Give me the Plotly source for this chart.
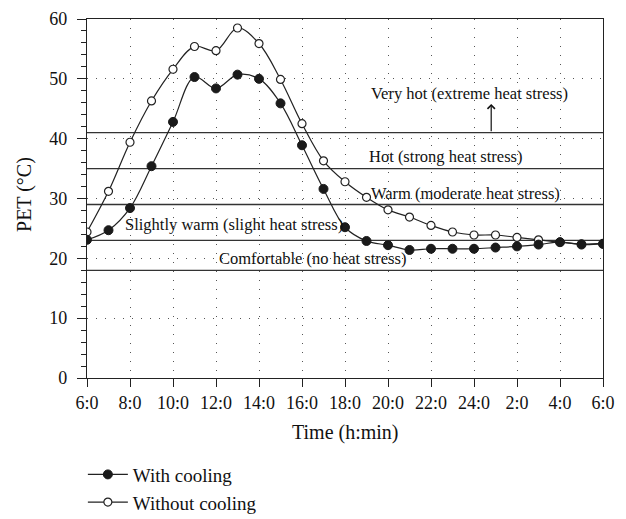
import plotly.graph_objects as go

# Hours elapsed since 6:00 (one reading per hour, 25 readings)
hours = list(range(25))
tick_vals = list(range(0, 25, 2))
tick_text = ["6:0", "8:0", "10:0", "12:0", "14:0", "16:0", "18:0",
             "20:0", "22:0", "24:0", "2:0", "4:0", "6:0"]

# PET values (deg C)
pet_with_cooling = [23.1, 24.7, 28.4, 35.4, 42.8, 50.3, 48.4, 50.7, 50.0, 45.9,
                    38.9, 31.6, 25.2, 22.9, 22.2, 21.4, 21.6, 21.6, 21.6, 21.8,
                    22.0, 22.3, 22.7, 22.3, 22.4]
pet_without_cooling = [24.4, 31.2, 39.4, 46.3, 51.6, 55.4, 54.7, 58.5, 55.9, 49.9,
                       42.5, 36.3, 32.8, 30.2, 28.1, 26.9, 25.5, 24.4, 23.9, 23.9,
                       23.5, 23.1, 22.7, 22.4, 22.5]

# Thermal perception class limits and their labels
class_limits = [18, 23, 29, 35, 41]
class_labels = ["Comfortable (no heat stress)", "Slightly warm (slight heat stress)",
                "Warm (moderate heat stress)", "Hot (strong heat stress)",
                "Very hot (extreme heat stress)"]
label_x = [10.5, 6.85, 17.6, 16.7, 17.8]
label_y = [19.9, 25.6, 30.9, 37.1, 47.5]

serif = "Liberation Serif"
ink = "#111"

fig = go.Figure()

fig.add_trace(go.Scatter(
    x=hours, y=pet_without_cooling, name="Without cooling",
    mode="lines+markers", line=dict(color="#222", width=1.2, shape="spline"),
    marker=dict(symbol="circle", size=8, color="white", line=dict(color="#222", width=1.2))))

fig.add_trace(go.Scatter(
    x=hours, y=pet_with_cooling, name="With cooling",
    mode="lines+markers", line=dict(color="#222", width=1.2, shape="spline"),
    marker=dict(symbol="circle", size=9, color="#1a1a1a", line=dict(color="#1a1a1a", width=1))))

# Horizontal class boundaries
for lim in class_limits:
    fig.add_shape(type="line", xref="paper", x0=0, x1=1, y0=lim, y1=lim,
                  line=dict(color="#333", width=1.3), layer="below")

for txt, lx, ly in zip(class_labels, label_x, label_y):
    fig.add_annotation(x=lx, y=ly, text=txt, showarrow=False,
                       font=dict(family=serif, size=16.5, color=ink))

# Arrow pointing up into the "very hot" zone
fig.add_annotation(x=18.8, y=45.8, ax=18.8, ay=class_limits[-1], axref="x", ayref="y",
                   text="", showarrow=True, arrowhead=4, arrowsize=1.2,
                   arrowwidth=1.2, arrowcolor=ink, standoff=0, startstandoff=0)

# Axis titles as annotations so they can be placed freely
fig.add_annotation(xref="paper", yref="paper", x=0.5, y=-0.152, text="Time (h:min)",
                   showarrow=False, xanchor="center", yanchor="middle",
                   font=dict(family=serif, size=20, color=ink))
fig.add_annotation(xref="paper", yref="paper", x=-0.12, y=0.51, text="PET (°C)",
                   textangle=-90, showarrow=False, xanchor="center", yanchor="middle",
                   font=dict(family=serif, size=20, color=ink))

fig.update_xaxes(range=[0, 24], tickvals=tick_vals, ticktext=tick_text,
                 showline=True, linecolor="#222", linewidth=1.2, mirror=True,
                 ticks="outside", ticklen=8, tickcolor="#222", ticklabeloverflow="allow",
                 showgrid=True, gridcolor="#555", gridwidth=1, griddash="1px,8px",
                 zeroline=False, automargin=False,
                 tickfont=dict(family=serif, size=18, color=ink))

fig.update_yaxes(range=[0, 60], dtick=10,
                 showline=True, linecolor="#222", linewidth=1.2, mirror=True,
                 ticks="outside", ticklen=9, tickcolor="#222", ticklabelstandoff=6,
                 ticklabeloverflow="allow",
                 minor=dict(dtick=2, ticks="outside", ticklen=5, tickcolor="#222", showgrid=False),
                 showgrid=True, gridcolor="#555", gridwidth=1, griddash="1px,8px",
                 zeroline=False, automargin=False,
                 tickfont=dict(family=serif, size=18, color=ink))

fig.update_layout(
    width=618, height=511,
    margin=dict(l=79, r=23, t=11, b=141, autoexpand=False),
    plot_bgcolor="white", paper_bgcolor="white",
    legend=dict(x=-0.008, y=-0.216, xanchor="left", yanchor="top",
                traceorder="reversed", itemwidth=40, tracegroupgap=0,
                font=dict(family=serif, size=19, color=ink),
                bgcolor="rgba(0,0,0,0)"),
)

fig.write_html("out.html")
